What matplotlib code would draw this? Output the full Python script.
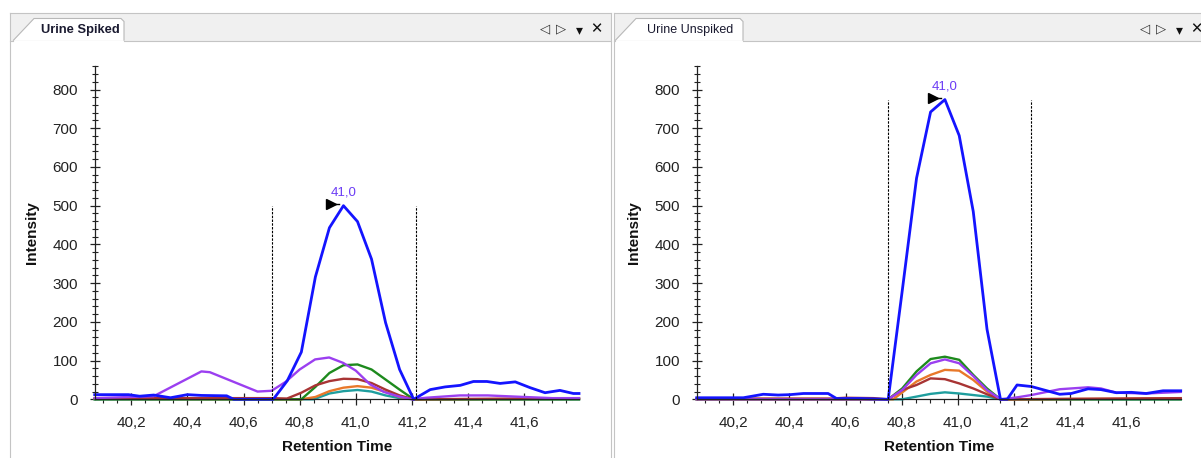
import matplotlib
matplotlib.use('Agg')
import matplotlib.pyplot as plt
from matplotlib.patches import Rectangle, Polygon
from matplotlib.lines import Line2D
from matplotlib.ticker import MultipleLocator, FuncFormatter
import matplotlib.transforms as mtransforms

plt.rcParams['font.family'] = ['Liberation Sans', 'DejaVu Sans']

# ---------------- data ----------------
panel_titles = ["Urine Spiked", "Urine Unspiked"]
x_label = "Retention Time"
y_label = "Intensity"

# Urine Spiked
spiked_blue_t = [40.07, 40.19, 40.23, 40.28, 40.34, 40.40, 40.45, 40.54, 40.565, 40.706, 40.756,
                 40.806, 40.856, 40.906, 40.956, 41.006, 41.056, 41.106, 41.156, 41.206, 41.265,
                 41.318, 41.372, 41.419, 41.467, 41.514, 41.568, 41.621, 41.674, 41.727, 41.775, 41.795]
spiked_blue_v = [12, 12, 8, 11, 4, 12, 10, 9, 0, 0, 48,
                 122, 316, 443, 500, 459, 362, 198, 77, 0, 25,
                 32, 36, 46, 46, 41, 45, 30, 17, 23, 15, 15]
spiked_purple_t = [40.07, 40.28, 40.45, 40.48, 40.65, 40.70, 40.75, 40.80, 40.855, 40.905, 40.955,
                   41.0, 41.05, 41.10, 41.15, 41.2, 41.25, 41.37, 41.47, 41.6, 41.7, 41.795]
spiked_purple_v = [3, 8, 72, 70, 20, 22, 45, 77, 103, 108, 94,
                   74, 39, 19, 8, 0, 4, 10, 10, 6, 3, 3]
spiked_green_t = [40.07, 40.806, 40.856, 40.906, 40.956, 41.006, 41.056, 41.106, 41.156, 41.206, 41.795]
spiked_green_v = [0, 0, 32, 68, 88, 90, 77, 51, 25, 0, 0]
spiked_brown_t = [40.07, 40.70, 40.755, 40.806, 40.856, 40.906, 40.956, 41.006, 41.056, 41.106,
                  41.156, 41.206, 41.795]
spiked_brown_v = [3, 3, 2, 17, 36, 47, 53, 52, 42, 25, 10, 0, 3]
spiked_orange_t = [40.07, 40.806, 40.856, 40.906, 40.956, 41.006, 41.056, 41.106, 41.156, 41.206, 41.795]
spiked_orange_v = [1, 0, 6, 21, 30, 34, 30, 19, 6, 0, 1]
spiked_teal_t = [40.07, 40.85, 40.906, 40.956, 41.006, 41.056, 41.106, 41.156, 41.206, 41.795]
spiked_teal_v = [0, 0, 15, 21, 24, 20, 10, 3, 0, 0]
spiked_bounds = [40.70, 41.213]

# Urine Unspiked
unspiked_blue_t = [40.07, 40.153, 40.236, 40.307, 40.36, 40.402, 40.45, 40.538, 40.568, 40.651, 40.752,
                   40.802, 40.853, 40.903, 40.954, 41.005, 41.055, 41.104, 41.152, 41.176, 41.211,
                   41.262, 41.363, 41.404, 41.464, 41.51, 41.565, 41.618, 41.671, 41.731, 41.794]
unspiked_blue_v = [4, 4, 4, 13, 11, 12, 15, 15, 2, 2, 0,
                   280, 571, 742, 774, 681, 485, 181, 0, 0, 37,
                   33, 13, 15, 27, 25, 17, 18, 15, 22, 22]
unspiked_purple_t = [40.07, 40.752, 40.802, 40.853, 40.903, 40.954, 41.005, 41.055, 41.104, 41.152,
                     41.211, 41.262, 41.363, 41.464, 41.51, 41.565, 41.671, 41.794]
unspiked_purple_v = [0, 0, 24, 63, 93, 103, 93, 60, 24, 0, 5, 11, 26, 31, 28, 17, 15, 19]
unspiked_green_t = [40.07, 40.752, 40.802, 40.853, 40.903, 40.954, 41.005, 41.055, 41.104, 41.152, 41.794]
unspiked_green_v = [0, 0, 28, 72, 104, 110, 102, 63, 28, 0, 0]
unspiked_brown_t = [40.07, 40.55, 40.60, 40.70, 40.752, 40.802, 40.853, 40.903, 40.954, 41.005,
                    41.055, 41.104, 41.152, 41.794]
unspiked_brown_v = [2, 2, 4, 3, 0, 24, 37, 54, 52, 41, 28, 13, 0, 3]
unspiked_orange_t = [40.07, 40.77, 40.853, 40.903, 40.954, 41.005, 41.055, 41.104, 41.152, 41.794]
unspiked_orange_v = [0, 0, 46, 63, 76, 74, 50, 20, 0, 2]
unspiked_teal_t = [40.07, 40.802, 40.853, 40.903, 40.954, 41.005, 41.055, 41.104, 41.152, 41.794]
unspiked_teal_v = [0, 0, 7, 14, 18, 15, 11, 7, 0, 0]
unspiked_bounds = [40.75, 41.262]

colors = {"teal": "#1f9e9e", "orange": "#e8782a", "green": "#1d8a1d",
          "brown": "#a83434", "purple": "#9b3ff0", "blue": "#1414ff"}

panels = [
    {"title": panel_titles[0], "bounds": spiked_bounds,
     "series": [("teal", spiked_teal_t, spiked_teal_v), ("orange", spiked_orange_t, spiked_orange_v),
                ("green", spiked_green_t, spiked_green_v), ("brown", spiked_brown_t, spiked_brown_v),
                ("purple", spiked_purple_t, spiked_purple_v), ("blue", spiked_blue_t, spiked_blue_v)]},
    {"title": panel_titles[1], "bounds": unspiked_bounds,
     "series": [("teal", unspiked_teal_t, unspiked_teal_v), ("green", unspiked_green_t, unspiked_green_v),
                ("orange", unspiked_orange_t, unspiked_orange_v), ("brown", unspiked_brown_t, unspiked_brown_v),
                ("purple", unspiked_purple_t, unspiked_purple_v), ("blue", unspiked_blue_t, unspiked_blue_v)]},
]

# ---------------- figure ----------------
W, H = 1201, 458
fig = plt.figure(figsize=(W / 100, H / 100), dpi=100)
fig.patch.set_facecolor('white')


def fx(x):
    return x / W


def fy(y):
    return 1 - y / H


def hline(x0, x1, y, color='#c4c4c4', lw=0.8):
    fig.add_artist(Line2D([fx(x0), fx(x1)], [fy(y), fy(y)], transform=fig.transFigure, color=color, lw=lw))


def vline(x, y0, y1, color='#c4c4c4', lw=0.8):
    fig.add_artist(Line2D([fx(x), fx(x)], [fy(y0), fy(y1)], transform=fig.transFigure, color=color, lw=lw))


def draw_header(x0, x1, tab_l, tab_r, title, bold, icon_x):
    top, bot, ttop = 13.3, 40.7, 18.5
    fig.add_artist(Rectangle((fx(x0), fy(bot)), fx(x1 - x0), (bot - top) / H, transform=fig.transFigure,
                             facecolor='#f0f0f0', edgecolor='none'))
    hline(x0, x1, top)
    vline(x0, top, H)
    vline(x1, top, H)
    hline(x0, tab_l, bot)
    hline(tab_r, x1, bot)
    pts = [(tab_l, bot), (tab_l + 21, ttop), (tab_r - 3, ttop), (tab_r, ttop + 3), (tab_r, bot)]
    fig.add_artist(Polygon([(fx(a), fy(b)) for a, b in pts], closed=False, transform=fig.transFigure,
                           facecolor='white', edgecolor='#b8b8b8', lw=0.8))
    cx = (tab_l + 21 + tab_r) / 2 + 1
    fig.text(fx(cx), fy(30), title, ha='center', va='center', fontsize=9.3 if bold else 9,
             fontweight='bold' if bold else 'normal', color='#1a1a30')
    ix = icon_x
    fig.text(fx(ix), fy(28.5), '\u25C1', ha='center', va='center', fontsize=9.5, color='#333333',
             family='DejaVu Sans')
    fig.text(fx(ix + 16.5), fy(28.5), '\u25B7', ha='center', va='center', fontsize=9.5, color='#333333',
             family='DejaVu Sans')
    fig.text(fx(ix + 34), fy(30), '\u25BE', ha='center', va='center', fontsize=10, color='#111111',
             family='DejaVu Sans')
    fig.text(fx(ix + 51), fy(28.5), '\u2715', ha='center', va='center', fontsize=10.5, color='#111111',
             family='DejaVu Sans', fontweight='bold')


draw_header(10, 611, 13, 124, panels[0]["title"], True, 545)
draw_header(614, 1205, 615, 743, panels[1]["title"], False, 1145)

axes_px = [(95, 579), (697, 1181)]
y_top_px, y_bot_px = 65.5, 399.3
XMIN, XMAX = 40.071, 41.795
YMIN, YMAX = 0, 862

tick_fmt = FuncFormatter(lambda v, p: f"{v:.1f}".replace('.', ','))

for panel, (l, r) in zip(panels, axes_px):
    ax = fig.add_axes([fx(l), fy(y_bot_px), (r - l) / W, (y_bot_px - y_top_px) / H])
    ax.patch.set_alpha(0)
    for name, t, v in panel["series"]:
        ax.plot(t, v, color=colors[name], lw=2.0 if name == "blue" else 1.7, clip_on=False,
                solid_joinstyle='round')
    # peak
    bt, bv = panel["series"][-1][1], panel["series"][-1][2]
    i = max(range(len(bv)), key=lambda k: bv[k])
    pt, pv = bt[i], bv[i]
    for b in panel["bounds"]:
        ax.plot([b, b], [0, pv], color='black', lw=0.8, dashes=(2.2, 1.2), clip_on=False)
    off_tri = mtransforms.offset_copy(ax.transData, fig=fig, x=-12, y=2, units='dots')
    ax.plot([pt], [pv], marker='>', color='black', markersize=7.5, transform=off_tri, clip_on=False)
    off_ln = mtransforms.offset_copy(ax.transData, fig=fig, x=0, y=2, units='dots')
    ax.plot([pt - 0.03, pt - 0.015], [pv, pv], color='black', lw=1.0, transform=off_ln, clip_on=False)
    ax.annotate(f"{pt:.1f}".replace('.', ','), (pt, pv), xytext=(0, 13), textcoords='offset pixels',
                ha='center', va='center', fontsize=9.5, color='#6b3cf5')

    ax.set_xlim(XMIN, XMAX)
    ax.set_ylim(YMIN, YMAX)
    for s in ['top', 'right']:
        ax.spines[s].set_visible(False)
    for s in ['left', 'bottom']:
        ax.spines[s].set_color('#222222')
        ax.spines[s].set_linewidth(0.9)
    ax.xaxis.set_major_locator(MultipleLocator(0.2))
    ax.xaxis.set_minor_locator(MultipleLocator(0.05))
    ax.yaxis.set_major_locator(MultipleLocator(100))
    ax.yaxis.set_minor_locator(MultipleLocator(20))
    ax.xaxis.set_major_formatter(tick_fmt)
    ax.tick_params(axis='x', which='major', direction='inout', length=8.5, width=0.9, color='#222222',
                   labelsize=11, labelcolor='#222222', pad=7.5)
    ax.tick_params(axis='x', which='minor', direction='out', length=3, width=0.8, color='#222222')
    ax.tick_params(axis='y', which='major', direction='inout', length=7.5, width=0.9, color='#222222',
                   labelsize=11, labelcolor='#222222', pad=8.5)
    ax.tick_params(axis='y', which='minor', direction='inout', length=4.5, width=0.8, color='#222222')
    ax.set_xlabel(x_label, fontsize=11, fontweight='bold', color='#111111')
    ax.xaxis.label.set_va('center')
    ax.xaxis.set_label_coords(0.5, -(447 - y_bot_px) / (y_bot_px - y_top_px))
    ax.set_ylabel(y_label, fontsize=11, fontweight='bold', color='#111111')
    ax.yaxis.label.set_va('center')
    ax.yaxis.set_label_coords((32 - 95) / (r - l), 0.5)

fig.savefig('out.png', dpi=100)
